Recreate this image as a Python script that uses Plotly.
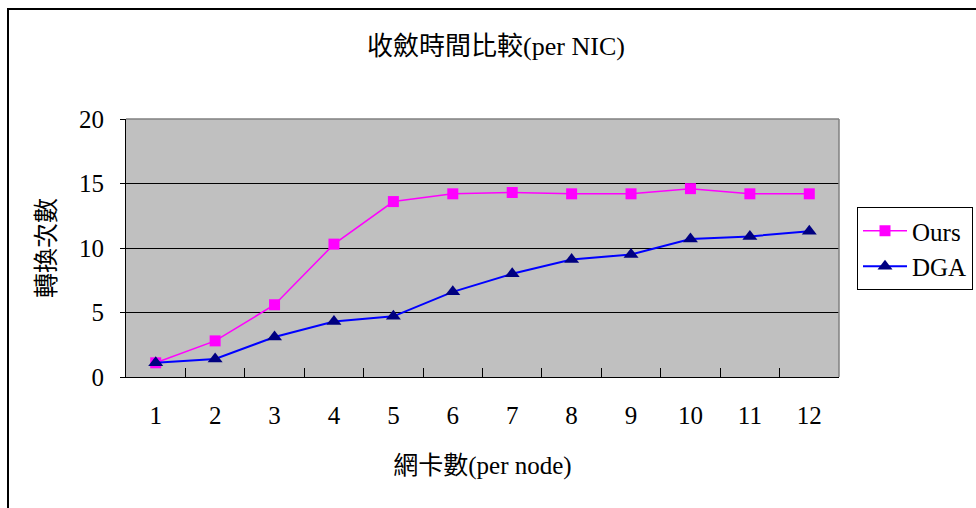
import plotly.graph_objects as go

categories = ["1", "2", "3", "4", "5", "6", "7", "8", "9", "10", "11", "12"]
ours = [1.1, 2.8, 5.6, 10.3, 13.6, 14.2, 14.3, 14.2, 14.2, 14.6, 14.2, 14.2]
dga = [1.1, 1.4, 3.1, 4.3, 4.7, 6.6, 8.0, 9.1, 9.5, 10.7, 10.9, 11.3]
y_ticks = [0, 5, 10, 15, 20]

title_text = "收斂時間比較(per NIC)"
x_title = "網卡數(per node)"
y_title = "轉換次數"

FONT = "Liberation Serif, Times New Roman, Noto Sans CJK TC, serif"

fig = go.Figure()
fig.add_trace(go.Scatter(
    x=categories, y=ours, name="Ours", mode="lines+markers",
    line=dict(color="#FF00FF", width=1.5),
    marker=dict(symbol="square", size=11, color="#FF00FF"),
))
fig.add_trace(go.Scatter(
    x=categories, y=dga, name="DGA", mode="lines+markers",
    line=dict(color="#0000FF", width=2),
    marker=dict(symbol="triangle-up", size=13, color="#000080"),
))

W, H = 976, 508
L, R, T, B = 126, 137, 119, 131
pw, ph = W - L - R, H - T - B

def px(xpix):
    return (xpix - L) / pw

def py(ypix):
    return (H - B - ypix) / ph

fig.update_layout(
    width=W, height=H,
    margin=dict(l=L, r=R, t=T, b=B, autoexpand=False),
    paper_bgcolor="white",
    plot_bgcolor="#C0C0C0",
    font=dict(family=FONT, size=25, color="black"),
    title=dict(text=title_text, x=496 / W, xref="container", xanchor="center",
               y=1 - 46 / H, yref="container", yanchor="middle",
               font=dict(family=FONT, size=26, color="black")),
    showlegend=True,
    legend=dict(x=px(857), y=py(207), xanchor="left", yanchor="top",
                bgcolor="white", bordercolor="black", borderwidth=1,
                font=dict(family=FONT, size=25, color="black"),
                tracegroupgap=0, itemwidth=44),
    xaxis=dict(type="category", range=[-0.5, len(categories) - 0.5],
               showgrid=False, tickson="boundaries",
               ticks="inside", ticklen=9, tickcolor="black", tickwidth=1,
               showline=True, linecolor="black", linewidth=1,
               ticklabelstandoff=16,
               title=dict(text=x_title, standoff=28,
                          font=dict(family=FONT, size=25)),
               zeroline=False),
    yaxis=dict(range=[0, 20], tickvals=y_ticks, showgrid=True,
               gridcolor="black", gridwidth=1,
               ticks="outside", ticklen=5, tickcolor="black",
               showline=True, linecolor="black", linewidth=1,
               ticklabelstandoff=11, zeroline=False,
               title=dict(text=y_title, standoff=16,
                          font=dict(family=FONT, size=25))),
    shapes=[
        dict(type="line", xref="paper", yref="paper", x0=0, x1=1, y0=1, y1=1,
             line=dict(color="#808080", width=1.5), layer="above"),
        dict(type="line", xref="paper", yref="paper", x0=1, x1=1, y0=0, y1=1,
             line=dict(color="#808080", width=1.5), layer="above"),
        dict(type="rect", xref="paper", yref="paper",
             x0=px(8), x1=px(985), y0=py(9), y1=py(520),
             line=dict(color="black", width=2), layer="above"),
    ],
)

fig.write_html("out.html", config={"displayModeBar": False},
               post_script="document.body.style.margin='0';document.body.style.overflow='hidden';")
